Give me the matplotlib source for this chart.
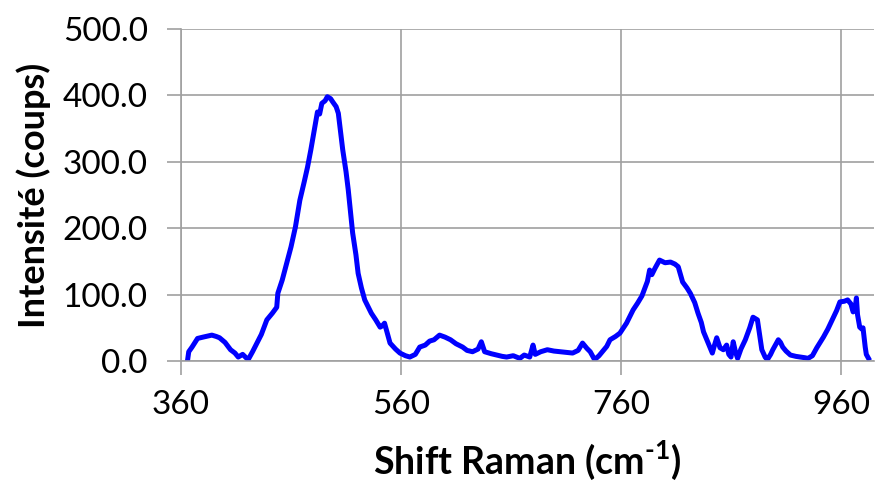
import matplotlib
matplotlib.use("Agg")
from matplotlib import pyplot as plt

# Raman spectrum read point by point (shift in cm-1, counts)
shift = [366, 367, 370, 375, 380, 388, 392, 395, 400, 405, 409, 412, 416, 421, 425,
         429, 433, 438, 443, 447, 448, 452, 456, 460, 464, 468, 472, 475, 478, 480,
         484, 486, 488, 491, 493, 496, 498, 501, 503, 505, 507, 510, 512, 514, 516,
         519, 521, 524, 527, 530, 533, 537, 541, 543, 545, 550, 555, 559, 564, 568,
         573, 577, 582, 586, 590, 595, 600, 605, 610, 616, 620, 625, 630, 633, 636,
         642, 647, 652, 656, 662, 668, 672, 677, 680, 682, 687, 693, 699, 705, 710,
         716, 721, 725, 729, 732, 736, 740, 743, 747, 750, 755, 759, 765, 771, 775,
         779, 782, 784, 786, 788, 791, 795, 800, 805, 809, 812, 816, 820, 823, 827,
         830, 833, 835, 839, 843, 845, 847, 850, 853, 856, 858, 860, 862, 864, 866,
         869, 873, 877, 880, 882, 884, 886, 888, 891, 893, 896, 898, 901, 903, 905,
         907, 910, 914, 919, 923, 927, 930, 934, 938, 941, 944, 948, 952, 956, 959,
         963, 966, 969, 971, 973, 974, 975, 977, 979, 980, 981, 982, 983, 985]
counts = [2, 14, 21, 34, 36, 39, 37, 35, 28, 17, 12, 6, 10, 2, 14,
          27, 40, 62, 72, 81, 102, 122, 147, 172, 202, 242, 270, 292, 318, 337,
          375, 372, 388, 392, 398, 395, 390, 383, 373, 345, 318, 285, 258, 225, 193,
          160, 132, 110, 92, 82, 72, 62, 51, 53, 57, 27, 18, 12, 8, 6,
          10, 21, 24, 30, 32, 39, 36, 32, 26, 21, 16, 14, 18, 29, 14,
          11, 9, 7, 6, 8, 4, 9, 6, 24, 10, 14, 17, 15, 14, 13,
          12, 16, 27, 19, 14, 2, 8, 14, 22, 32, 37, 42, 57, 77, 87,
          98, 111, 120, 137, 130, 140, 152, 148, 149, 146, 142, 119, 110, 102, 88,
          72, 58, 44, 28, 12, 24, 35, 20, 17, 24, 10, 6, 29, 14, 4,
          18, 32, 50, 66, 64, 62, 40, 17, 6, 2, 10, 17, 26, 32, 28,
          21, 15, 9, 7, 6, 5, 4, 8, 20, 28, 36, 48, 62, 76, 89,
          90, 92, 86, 74, 82, 95, 70, 51, 48, 50, 35, 21, 10, 4]

y_ticks = [0, 100, 200, 300, 400, 500]
x_ticks = [360, 560, 760, 960]

plt.rcParams["font.family"] = ["Lato", "DejaVu Sans"]
plt.rcParams["mathtext.fontset"] = "custom"
plt.rcParams["mathtext.bf"] = "Lato:bold"
plt.rcParams["mathtext.rm"] = "Lato:bold"

fig = plt.figure(figsize=(8.84, 4.88), dpi=100)
ax = fig.add_axes([0.2048, 0.2602, 0.7839, 0.6804])

ax.plot(shift, counts, color="#0000ff", linewidth=3.6, solid_joinstyle="round")

ax.set_xlim(360, 990)
ax.set_ylim(0, 500)
ax.set_xticks(x_ticks)
ax.set_yticks(y_ticks)
ax.set_yticklabels([f"{v:.1f}" for v in y_ticks])
ax.grid(True, color="#a0a0a0", linewidth=1.2)
ax.set_axisbelow(True)

for side in ["top", "right"]:
    ax.spines[side].set_visible(False)
for side in ["left", "bottom"]:
    ax.spines[side].set_color("#a0a0a0")
    ax.spines[side].set_linewidth(1.2)
ax.tick_params(axis="both", direction="out", length=10, width=1.2, color="#a0a0a0",
               labelsize=24)
ax.tick_params(axis="y", pad=14)
ax.tick_params(axis="x", pad=11)

ax.set_xlabel("Shift Raman (cm$^{\\text{-1}}$)", fontsize=27, fontweight="bold", labelpad=13)
ax.set_ylabel("Intensité (coups)", fontsize=26, fontweight="bold", labelpad=8)

plt.savefig("out.png", dpi=100)
